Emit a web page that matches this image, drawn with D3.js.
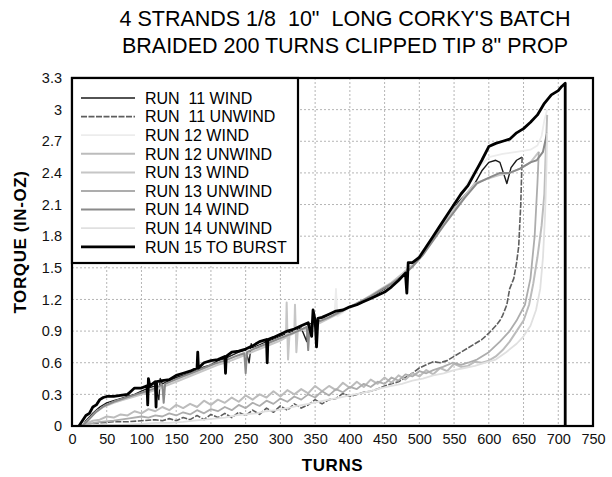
<!DOCTYPE html>
<html>
<head>
<meta charset="utf-8">
<script src="https://cdn.jsdelivr.net/npm/d3@7"></script>
<style>
  body { margin: 0; background: #fff; }
  text { font-family: "Liberation Sans", Arial, sans-serif; }
</style>
</head>
<body>
<div id="chart"></div>
<script>
// series: [turns, torque in-oz]
var run15 = [[10,0],[15,0.05],[20,0.1],[25,0.12],[30,0.18],[35,0.2],[40,0.25],[45,0.27],[50,0.28],[60,0.28],[70,0.29],[80,0.3],[85,0.33],[90,0.36],[100,0.36],[108,0.38],[109,0.2],[110,0.45],[112,0.38],[120,0.42],[121,0.18],[122,0.42],[130,0.43],[140,0.44],[150,0.48],[160,0.5],[170,0.52],[180,0.55],[181,0.7],[182,0.55],[190,0.6],[200,0.62],[210,0.63],[220,0.66],[221,0.5],[222,0.66],[230,0.7],[240,0.71],[250,0.73],[260,0.76],[270,0.8],[280,0.82],[281,0.6],[282,0.82],[290,0.84],[300,0.87],[310,0.9],[320,0.92],[330,0.95],[340,0.98],[345,0.85],[347,1.1],[350,1.0],[352,0.75],[354,1.02],[360,1.03],[370,1.06],[380,1.09],[390,1.1],[400,1.13],[410,1.15],[420,1.18],[430,1.21],[440,1.24],[450,1.27],[460,1.32],[470,1.38],[480,1.45],[482,1.26],[484,1.55],[490,1.55],[500,1.6],[510,1.7],[520,1.8],[530,1.9],[540,2.0],[550,2.1],[560,2.2],[570,2.28],[580,2.4],[590,2.52],[600,2.65],[610,2.68],[620,2.7],[630,2.72],[640,2.78],[650,2.82],[660,2.88],[670,2.95],[680,3.06],[690,3.14],[700,3.18],[705,3.22],[710,3.25],[710,0]];

var run11Wind = [[15,0],[20,0.05],[30,0.12],[40,0.18],[50,0.22],[60,0.24],[70,0.26],[80,0.28],[90,0.3],[100,0.33],[110,0.36],[120,0.38],[125,0.25],[127,0.45],[130,0.4],[140,0.43],[150,0.46],[160,0.48],[170,0.5],[180,0.53],[190,0.56],[200,0.58],[210,0.62],[220,0.64],[230,0.67],[240,0.7],[250,0.72],[255,0.6],[258,0.78],[260,0.74],[270,0.77],[280,0.8],[290,0.82],[300,0.85],[310,0.88],[320,0.9],[330,0.93],[338,0.8],[340,0.96],[350,0.99],[360,1.0],[370,1.03],[380,1.06],[390,1.1],[400,1.12],[410,1.16],[420,1.18],[430,1.22],[440,1.26],[450,1.3],[460,1.35],[470,1.4],[480,1.47],[490,1.52],[500,1.6],[510,1.68],[520,1.78],[530,1.88],[540,1.98],[550,2.08],[560,2.15],[570,2.22],[580,2.3],[590,2.42],[600,2.5],[610,2.52],[616,2.5],[622,2.38],[626,2.3],[632,2.45],[640,2.52],[648,2.55]];

var run11Unwind = [[648,2.55],[646,2.1],[643,1.7],[640,1.55],[636,1.4],[630,1.3],[626,1.15],[620,1.05],[616,1.0],[610,0.95],[600,0.88],[590,0.82],[580,0.78],[570,0.74],[560,0.7],[550,0.66],[540,0.62],[530,0.6],[520,0.61],[510,0.58],[500,0.55],[490,0.5],[480,0.46],[470,0.42],[460,0.4],[450,0.38],[440,0.35],[430,0.33],[420,0.32],[410,0.3],[400,0.28],[390,0.31],[380,0.26],[370,0.25],[360,0.21],[350,0.25],[340,0.2],[330,0.17],[320,0.21],[310,0.15],[300,0.19],[290,0.13],[280,0.17],[270,0.11],[260,0.15],[250,0.1],[240,0.13],[230,0.08],[220,0.12],[210,0.08],[200,0.11],[190,0.06],[180,0.1],[170,0.06],[160,0.08],[150,0.05],[140,0.07],[130,0.05],[120,0.06],[100,0.05],[80,0.04],[60,0.04],[40,0.03],[20,0.02],[10,0]];

var run12Wind = [[15,0],[25,0.06],[35,0.14],[50,0.2],[65,0.24],[80,0.27],[95,0.3],[110,0.34],[125,0.37],[140,0.41],[155,0.45],[170,0.49],[185,0.53],[200,0.57],[215,0.6],[230,0.65],[245,0.69],[260,0.73],[275,0.77],[290,0.81],[305,0.85],[320,0.89],[335,0.93],[350,0.97],[365,1.01],[378,1.05],[380,1.3],[382,1.04],[395,1.1],[410,1.15],[425,1.2],[440,1.27],[455,1.33],[470,1.41],[485,1.5],[500,1.62],[515,1.75],[530,1.9],[545,2.03],[560,2.2],[580,2.42],[600,2.55],[620,2.58],[640,2.6],[660,2.62],[670,2.66],[676,2.75],[680,2.9],[684,3.0]];

var run12Unwind = [[684,2.95],[682,2.6],[680,2.2],[676,1.9],[670,1.6],[664,1.35],[658,1.15],[650,1.0],[640,0.9],[630,0.8],[620,0.72],[610,0.66],[600,0.62],[590,0.6],[580,0.61],[570,0.57],[560,0.56],[550,0.59],[540,0.52],[530,0.55],[520,0.49],[510,0.53],[500,0.47],[490,0.5],[480,0.44],[470,0.48],[460,0.41],[450,0.46],[440,0.4],[430,0.44],[420,0.37],[410,0.42],[400,0.36],[390,0.41],[380,0.34],[370,0.38],[360,0.33],[350,0.38],[340,0.31],[330,0.35],[320,0.3],[310,0.34],[300,0.28],[290,0.33],[280,0.27],[270,0.3],[260,0.25],[250,0.29],[240,0.23],[230,0.27],[220,0.22],[210,0.25],[200,0.2],[190,0.24],[180,0.18],[170,0.21],[160,0.17],[150,0.2],[140,0.15],[130,0.18],[120,0.14],[110,0.16],[100,0.12],[90,0.14],[80,0.1],[70,0.11],[60,0.08],[50,0.09],[40,0.06],[30,0.05],[20,0.02],[15,0]];

var run13Wind = [[15,0],[22,0.05],[32,0.12],[45,0.18],[60,0.22],[75,0.25],[90,0.28],[105,0.31],[120,0.34],[135,0.38],[150,0.42],[165,0.46],[180,0.5],[195,0.54],[210,0.58],[225,0.61],[240,0.65],[255,0.69],[270,0.73],[285,0.77],[300,0.81],[308,0.84],[309,1.17],[311,0.63],[313,0.86],[320,0.88],[321,1.15],[323,0.7],[325,0.9],[340,0.93],[355,0.97],[370,1.02],[385,1.07],[400,1.13],[415,1.18],[430,1.24],[445,1.3],[460,1.36],[475,1.44],[490,1.53],[505,1.64],[520,1.77],[535,1.92],[550,2.05],[565,2.18],[580,2.3],[600,2.35],[615,2.38],[630,2.4],[645,2.44],[660,2.5],[672,2.6]];

var run13Unwind = [[672,2.6],[670,2.3],[666,1.8],[660,1.4],[652,1.15],[640,1.0],[630,0.9],[616,0.8],[600,0.7],[583,0.63],[570,0.6],[560,0.58],[548,0.6],[534,0.56],[520,0.53],[510,0.5],[500,0.52],[490,0.47],[480,0.49],[470,0.43],[460,0.46],[450,0.4],[440,0.42],[430,0.37],[420,0.4],[410,0.35],[400,0.37],[390,0.32],[380,0.35],[370,0.29],[360,0.33],[350,0.27],[340,0.3],[330,0.25],[320,0.28],[310,0.23],[300,0.26],[290,0.21],[280,0.24],[270,0.19],[260,0.22],[250,0.17],[240,0.2],[230,0.15],[220,0.18],[210,0.14],[200,0.16],[190,0.12],[180,0.15],[170,0.11],[160,0.13],[150,0.1],[140,0.12],[130,0.09],[120,0.1],[110,0.08],[100,0.09],[80,0.07],[60,0.05],[40,0.04],[25,0.02],[15,0]];

var run14Wind = [[15,0],[24,0.06],[34,0.13],[46,0.19],[60,0.23],[74,0.26],[88,0.29],[102,0.32],[116,0.35],[130,0.39],[132,0.22],[134,0.4],[145,0.43],[160,0.47],[175,0.51],[190,0.55],[205,0.59],[220,0.62],[235,0.66],[248,0.69],[250,0.5],[252,0.7],[265,0.74],[280,0.78],[295,0.82],[310,0.86],[325,0.9],[338,0.94],[340,0.72],[342,0.95],[355,0.99],[370,1.03],[385,1.08],[400,1.13],[415,1.18],[430,1.23],[445,1.29],[460,1.35],[475,1.42],[490,1.51],[505,1.62],[520,1.76],[535,1.9],[550,2.03],[565,2.16],[583,2.3],[602,2.36],[616,2.4],[630,2.4],[645,2.44],[660,2.5],[669,2.52],[678,2.6],[684,2.78]];

var run14Unwind = [[684,2.78],[683,2.45],[681,2.0],[678,1.6],[674,1.3],[668,1.1],[660,0.95],[650,0.85],[640,0.78],[625,0.7],[610,0.63],[595,0.6],[580,0.57],[565,0.55],[550,0.53],[535,0.5],[520,0.48],[505,0.45],[490,0.43],[475,0.4],[460,0.38],[445,0.36],[430,0.33],[415,0.31],[400,0.29],[385,0.27],[370,0.25],[355,0.23],[340,0.21],[325,0.19],[310,0.17],[295,0.15],[280,0.14],[265,0.12],[250,0.11],[235,0.1],[220,0.08],[205,0.07],[190,0.06],[175,0.05],[160,0.04],[140,0.03],[120,0.03],[100,0.02],[70,0.01],[40,0.01],[15,0]];

var legendLabels = ["RUN  11 WIND", "RUN  11 UNWIND", "RUN 12 WIND", "RUN 12 UNWIND", "RUN 13 WIND",
                    "RUN 13 UNWIND", "RUN 14 WIND", "RUN 14 UNWIND", "RUN 15 TO BURST"];
var xTicks = [0, 50, 100, 150, 200, 250, 300, 350, 400, 450, 500, 550, 600, 650, 700, 750];
var yTicks = [0, 0.3, 0.6, 0.9, 1.2, 1.5, 1.8, 2.1, 2.4, 2.7, 3, 3.3];

var series = [
  {name: legendLabels[0], data: run11Wind,   color: "#1a1a1a", width: 1.4, dash: null},
  {name: legendLabels[1], data: run11Unwind, color: "#5e5e5e", width: 1.6, dash: "6,1.5"},
  {name: legendLabels[2], data: run12Wind,   color: "#ececec", width: 1.8, dash: null},
  {name: legendLabels[3], data: run12Unwind, color: "#bcbcbc", width: 2, dash: null},
  {name: legendLabels[4], data: run13Wind,   color: "#c6c6c6", width: 2, dash: null},
  {name: legendLabels[5], data: run13Unwind, color: "#adadad", width: 1.8, dash: null},
  {name: legendLabels[6], data: run14Wind,   color: "#8a8a8a", width: 2, dash: null},
  {name: legendLabels[7], data: run14Unwind, color: "#e0e0e0", width: 1.8, dash: null},
  {name: legendLabels[8], data: run15,       color: "#000000", width: 2.8, dash: null}
];

var W = 612, H = 477;
var margin = {top: 78, right: 19, bottom: 51, left: 72},
    width = W - margin.left - margin.right,
    height = H - margin.top - margin.bottom;

var svg = d3.select("#chart").append("svg")
    .attr("width", W)
    .attr("height", H);

// titles
svg.append("text")
    .attr("x", 345).attr("y", 26)
    .attr("text-anchor", "middle")
    .attr("font-size", 21.5)
    .style("white-space", "pre")
    .text("4 STRANDS 1/8  10\"  LONG CORKY'S BATCH");
svg.append("text")
    .attr("x", 345).attr("y", 53)
    .attr("text-anchor", "middle")
    .attr("font-size", 21.5)
    .text("BRAIDED 200 TURNS CLIPPED TIP 8\" PROP");

var g = svg.append("g")
    .attr("transform", "translate(" + margin.left + "," + margin.top + ")");

var x = d3.scaleLinear().domain([0, 750]).range([0, width]);
var y = d3.scaleLinear().domain([0, 3.3]).range([height, 0]);

// grid
g.append("g").selectAll("line")
    .data(xTicks.slice(1, -1))
  .enter().append("line")
    .attr("x1", function(d) { return x(d); })
    .attr("x2", function(d) { return x(d); })
    .attr("y1", 0).attr("y2", height)
    .attr("stroke", "#b5b5b5")
    .attr("stroke-dasharray", "2,2");
g.append("g").selectAll("line")
    .data(yTicks.slice(1, -1))
  .enter().append("line")
    .attr("y1", function(d) { return y(d); })
    .attr("y2", function(d) { return y(d); })
    .attr("x1", 0).attr("x2", width)
    .attr("stroke", "#b5b5b5")
    .attr("stroke-dasharray", "2,2");

// axes (labels only, frame drawn separately)
var xAxis = g.append("g")
    .attr("transform", "translate(0," + height + ")")
    .call(d3.axisBottom(x).tickValues(xTicks).tickSize(0).tickPadding(8));
var yAxis = g.append("g")
    .call(d3.axisLeft(y).tickValues(yTicks).tickSize(0).tickPadding(10)
      .tickFormat(function(d) { return String(+d.toFixed(1)); }));
[xAxis, yAxis].forEach(function(a) {
  a.select(".domain").remove();
  a.selectAll("text")
      .attr("font-family", "'Liberation Sans', Arial, sans-serif")
      .attr("font-size", 14.5)
      .attr("fill", "#111");
});

var line = d3.line()
    .x(function(d) { return x(d[0]); })
    .y(function(d) { return y(d[1]); });

g.append("g").selectAll("path")
    .data(series)
  .enter().append("path")
    .attr("d", function(d) { return line(d.data); })
    .attr("fill", "none")
    .attr("stroke", function(d) { return d.color; })
    .attr("stroke-width", function(d) { return d.width; })
    .attr("stroke-dasharray", function(d) { return d.dash; })
    .attr("stroke-linejoin", "round");

// plot frame
g.append("rect")
    .attr("width", width).attr("height", height)
    .attr("fill", "none")
    .attr("stroke", "#000")
    .attr("stroke-width", 2.2);

// legend
var legend = g.append("g").attr("transform", "translate(0,0)");
legend.append("rect")
    .attr("width", 226).attr("height", 185)
    .attr("fill", "#fff")
    .attr("stroke", "#000")
    .attr("stroke-width", 2.2);
var item = legend.selectAll("g.item")
    .data(series)
  .enter().append("g")
    .attr("class", "item")
    .attr("transform", function(d, i) { return "translate(0," + (20 + i * 18.6) + ")"; });
item.append("line")
    .attr("x1", 9).attr("x2", 63)
    .attr("stroke", function(d) { return d.color; })
    .attr("stroke-width", function(d) { return d.width; })
    .attr("stroke-dasharray", function(d) { return d.dash; });
item.append("text")
    .attr("x", 73).attr("dy", "0.36em")
    .attr("font-size", 16)
    .style("white-space", "pre")
    .text(function(d) { return d.name; });

// axis titles
svg.append("text")
    .attr("x", margin.left + width / 2).attr("y", 471)
    .attr("text-anchor", "middle")
    .attr("font-size", 17)
    .attr("font-weight", "bold")
    .attr("letter-spacing", 0.6)
    .text("TURNS");
svg.append("text")
    .attr("transform", "translate(26,242) rotate(-90)")
    .attr("text-anchor", "middle")
    .attr("font-size", 17)
    .attr("font-weight", "bold")
    .attr("letter-spacing", 0.6)
    .text("TORQUE (IN-OZ)");
</script>
</body>
</html>
